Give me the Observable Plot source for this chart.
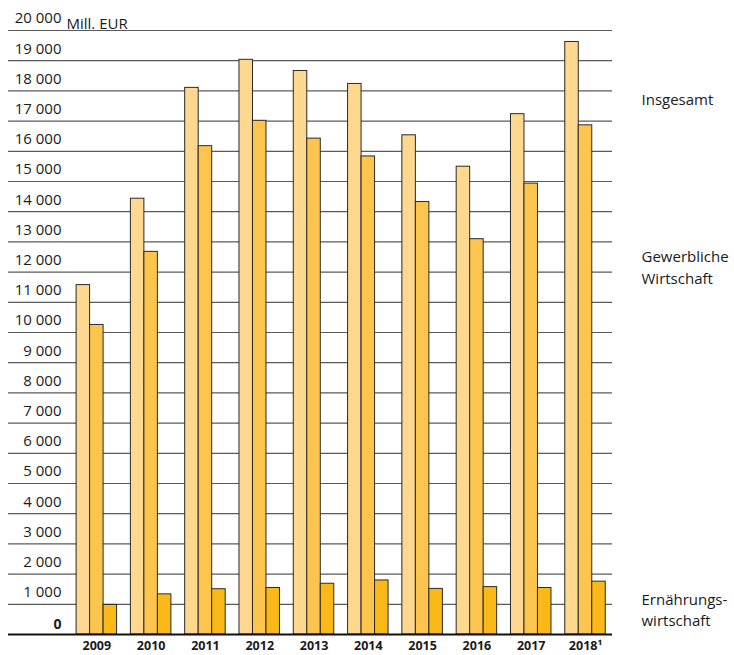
<!DOCTYPE html>
<html>
<head>
<meta charset="utf-8">
<script src="https://cdn.jsdelivr.net/npm/d3@7"></script>
<script src="https://cdn.jsdelivr.net/npm/@observablehq/plot@0.6"></script>
<style>
  html, body { margin: 0; padding: 0; background: #fff; }
  #chart { width: 734px; height: 655px; }
</style>
</head>
<body>
<div id="chart"></div>
<script>
// ---- data (Mill. EUR) ----
const years = ["2009", "2010", "2011", "2012", "2013", "2014", "2015", "2016", "2017", "2018\u00B9"];
const insgesamt = [11570, 14430, 18100, 19030, 18660, 18230, 16530, 15490, 17230, 19620];
const gewerbliche = [10250, 12670, 16170, 17010, 16420, 15830, 14320, 13090, 14930, 16860];
const ernaehrung = [980, 1330, 1500, 1540, 1680, 1790, 1510, 1570, 1540, 1750];
const seriesColors = ["#fed88f", "#fdc54e", "#fbb919"];
const yTicks = d3.range(0, 20001, 1000);
// right-hand labels, one entry per printed line, anchored at a value (Mill. EUR)
const legendLines = ["Insgesamt", "Gewerbliche", "Wirtschaft", "Ernährungs-", "wirtschaft"];
const legendAt = [17700, 12480, 11760, 1150, 440];

const toRows = (vals) => years.map((year, i) => ({year, value: vals[i]}));
const rows = [toRows(insgesamt), toRows(gewerbliche), toRows(ernaehrung)];
const fmt = (d) => d3.format(",")(d).replace(/,/g, " ");

const bw = 40.5;           // band width of a year group
const third = bw / 3;
const insets = [
  {insetLeft: 0, insetRight: 2 * third},
  {insetLeft: third, insetRight: third},
  {insetLeft: 2 * third, insetRight: 0}
];

const font = "'Open Sans', sans-serif";

const chart = Plot.plot({
  width: 734,
  height: 655,
  marginLeft: 8,
  marginRight: 122,
  marginTop: 30,
  marginBottom: 21,
  style: {fontFamily: font, color: "#1a1a1a", background: "#fff", overflow: "visible"},
  x: {domain: years, paddingInner: 0.254, paddingOuter: 0.689, align: 0.91, round: false, axis: null},
  y: {domain: [0, 20000], axis: null},
  marks: [
    Plot.ruleY(yTicks.filter(d => d > 0), {stroke: "#5a5a5a", strokeWidth: 1.2}),
    ...rows.map((data, k) => Plot.barY(data, {
      x: "year", y: "value",
      fill: seriesColors[k],
      stroke: "#2a2a2a", strokeWidth: 1,
      ...insets[k]
    })),
    Plot.ruleY([0], {stroke: "#111", strokeWidth: 2}),
    Plot.text(yTicks.filter(d => d > 0), {
      y: d => d, text: fmt, frameAnchor: "left", dx: 53, dy: -12,
      textAnchor: "end", fontSize: 15, fill: "#1a1a1a"
    }),
    Plot.text([0], {
      y: d => d, text: d => String(d), frameAnchor: "left", dx: 53, dy: -10,
      textAnchor: "end", fontSize: 14, fontWeight: "bold", fill: "#1a1a1a"
    }),
    Plot.text(["Mill. EUR"], {
      frameAnchor: "top-left", dx: 58, dy: -12, textAnchor: "start",
      fontSize: 15, fill: "#1a1a1a"
    }),
    Plot.text(years, {
      x: d => d, text: d => d, frameAnchor: "bottom", dy: 15,
      fontSize: 12.5, fontWeight: "bold", fill: "#1a1a1a"
    }),
    Plot.text(legendLines, {
      y: (d, i) => legendAt[i], text: d => d, frameAnchor: "right", dx: 29,
      textAnchor: "start", fontSize: 15, fill: "#1a1a1a"
    })
  ]
});
document.getElementById("chart").appendChild(chart);
</script>
</body>
</html>
